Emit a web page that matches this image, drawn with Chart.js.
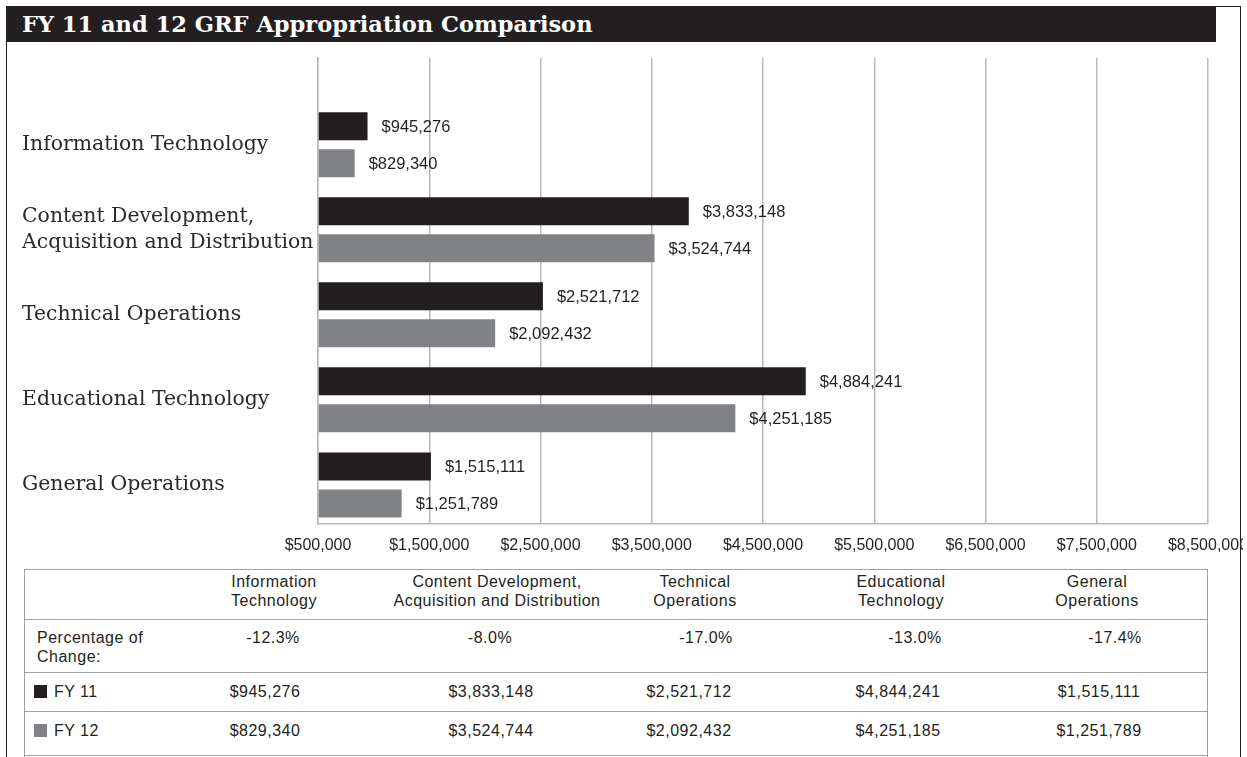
<!DOCTYPE html>
<html>
<head>
<meta charset="utf-8">
<script src="https://cdn.jsdelivr.net/npm/chart.js@4.4.1/dist/chart.umd.min.js"></script>
<style>
  html, body { margin: 0; padding: 0; background: #fff; }
  body { width: 1247px; height: 757px; overflow: hidden; position: relative;
         font-family: "Liberation Sans", Arial, sans-serif; color: #231f20; }
  #frame { position: absolute; left: 6px; top: 6px; width: 1233px; height: 800px; z-index: 5;
           border: 1.5px solid #231f20; border-bottom: none; pointer-events: none; }
  #cover { position: absolute; left: 1243px; top: 0; width: 10px; height: 757px; background: #fff; z-index: 4; }
  #title { position: absolute; left: 7px; top: 7px; width: 1209px; height: 35px;
           background: #231f20; color: #fff; font: bold 22.5px "DejaVu Serif", serif;
           line-height: 35px; padding-left: 15px; box-sizing: border-box; white-space: nowrap; }
  #chartBox { position: absolute; left: 0; top: 42px; width: 1247px; height: 525px; }
  #table { position: absolute; left: 24px; top: 569px; width: 1184px; height: 200px;
           border: 1.5px solid #a0a0a0; box-sizing: border-box; }
  .hline { position: absolute; left: 24px; width: 1184px; height: 0; border-top: 1.5px solid #a0a0a0; }
  .cell { position: absolute; font-size: 16px; letter-spacing: 0.5px; line-height: 19px; text-align: center;
          white-space: nowrap; transform: translateX(-50%); color: #231f20; }
  .lab { position: absolute; font-size: 16px; letter-spacing: 0.5px; line-height: 19px; white-space: nowrap; color: #231f20; }
  .sw { position: absolute; width: 13px; height: 13px; }
</style>
</head>
<body>
<div id="title">FY 11 and 12 GRF Appropriation Comparison</div>
<div id="chartBox"><canvas id="c" width="1247" height="525"></canvas></div>
<div id="table"></div>
<div id="tableBody"></div>
<div id="cover"></div>
<div id="frame"></div>
<script>
// ---- data ----
const categories = ['Information Technology', 'Content Development, Acquisition and Distribution',
                    'Technical Operations', 'Educational Technology', 'General Operations'];
const seriesNames = ['FY 11', 'FY 12'];
const fy11 = [945276, 3833148, 2521712, 4884241, 1515111];
const fy12 = [829340, 3524744, 2092432, 4251185, 1251789];
const fy11Table = [945276, 3833148, 2521712, 4844241, 1515111]; // as printed in the table
const pctChange = [-12.3, -8.0, -17.0, -13.0, -17.4];
const xTicks = [500000, 1500000, 2500000, 3500000, 4500000, 5500000, 6500000, 7500000, 8500000];
const seriesColors = ['#231f20', '#818285'];

// ---- helpers ----
const money = v => '$' + v.toLocaleString('en-US');
const pct = v => v.toFixed(1) + '%';
function chartLabel(name) {            // chart axis: wrap only after a comma
  const i = name.indexOf(', ');
  return i < 0 ? name : [name.slice(0, i + 1), name.slice(i + 2)];
}
function tableLabel(name) {            // table header: two lines
  const i = name.indexOf(', ');
  if (i >= 0) return [name.slice(0, i + 1), name.slice(i + 2)];
  const s = name.indexOf(' ');
  return [name.slice(0, s), name.slice(s + 1)];
}

// ---- chart ----
const valueLabels = {
  id: 'valueLabels',
  afterDatasetsDraw(chart) {
    const ctx = chart.ctx;
    ctx.save();
    ctx.font = '16.5px "Liberation Sans", Arial, sans-serif';
    ctx.fillStyle = '#231f20';
    ctx.textBaseline = 'middle';
    ctx.textAlign = 'left';
    chart.data.datasets.forEach((ds, di) => {
      chart.getDatasetMeta(di).data.forEach((bar, i) => {
        ctx.fillText(money(ds.data[i].x), bar.x + 14, bar.y + 1);
      });
    });
    ctx.restore();
  }
};

const series = [fy11, fy12];
new Chart(document.getElementById('c'), {
  type: 'bar',
  data: {
    datasets: series.map((vals, s) => ({
      label: seriesNames[s],
      data: vals.map((v, i) => ({ x: v, y: i })),
      backgroundColor: seriesColors[s],
      borderWidth: 0,
      base: xTicks[0],
      barPercentage: 0.757,
      categoryPercentage: 0.87
    }))
  },
  options: {
    indexAxis: 'y',
    responsive: false,
    animation: false,
    devicePixelRatio: 1,
    layout: { padding: { top: 16, left: 22, right: 39, bottom: 0 } },
    plugins: { legend: { display: false }, tooltip: { enabled: false }, title: { display: false } },
    scales: {
      x: {
        type: 'linear',
        min: xTicks[0], max: xTicks[xTicks.length - 1],
        afterBuildTicks: s => { s.ticks = xTicks.map(v => ({ value: v })); },
        ticks: { callback: v => money(v), font: { family: '"Liberation Sans", Arial, sans-serif', size: 16 },
                 color: '#231f20', padding: 12, maxRotation: 0, autoSkip: false },
        grid: { color: '#b9b9b9', lineWidth: 1.5, drawTicks: false },
        border: { display: true, color: '#b9b9b9', width: 1.5 },
        afterFit: s => { s.height = 43; s.paddingLeft = 0; s.paddingRight = 0; }
      },
      y: {
        type: 'linear',
        offset: false,
        reverse: true,
        min: -1.02, max: 4.46,
        afterBuildTicks: s => { s.ticks = categories.map((_, i) => ({ value: i })); },
        ticks: { callback: v => chartLabel(categories[v]), crossAlign: 'far', padding: 0, autoSkip: false,
                 font: { family: '"DejaVu Serif", serif', size: 20.4, lineHeight: 1.27 }, color: '#2a2a2a' },
        grid: { display: false },
        border: { display: true, color: '#b9b9b9', width: 1.5 },
        afterFit: s => { s.width = 296; s.paddingTop = 0; s.paddingBottom = 0; }
      }
    }
  },
  plugins: [valueLabels]
});

// ---- table ----
const headCenters = [274, 497, 695, 901, 1097];
const pctCenters = [273, 490, 706, 915, 1115];
const valCenters = [265, 491, 689, 898, 1099];
const rowLines = [619, 672, 711, 755];
const tb = document.getElementById('tableBody');
function add(html) { tb.insertAdjacentHTML('beforeend', html); }
rowLines.forEach(y => add(`<div class="hline" style="top:${y}px"></div>`));
categories.forEach((c, i) => {
  add(`<div class="cell" style="left:${headCenters[i]}px;top:572px">${tableLabel(c).join('<br>')}</div>`);
  add(`<div class="cell" style="left:${pctCenters[i]}px;top:628px">${pct(pctChange[i])}</div>`);
  add(`<div class="cell" style="left:${valCenters[i]}px;top:682px">${money(fy11Table[i])}</div>`);
  add(`<div class="cell" style="left:${valCenters[i]}px;top:721px">${money(fy12[i])}</div>`);
});
add(`<div class="lab" style="left:37px;top:628px">Percentage of<br>Change:</div>`);
add(`<div class="sw" style="left:34px;top:685px;background:${seriesColors[0]}"></div>`);
add(`<div class="lab" style="left:54px;top:682px">${seriesNames[0]}</div>`);
add(`<div class="sw" style="left:34px;top:724px;background:${seriesColors[1]}"></div>`);
add(`<div class="lab" style="left:54px;top:721px">${seriesNames[1]}</div>`);
</script>
</body>
</html>
